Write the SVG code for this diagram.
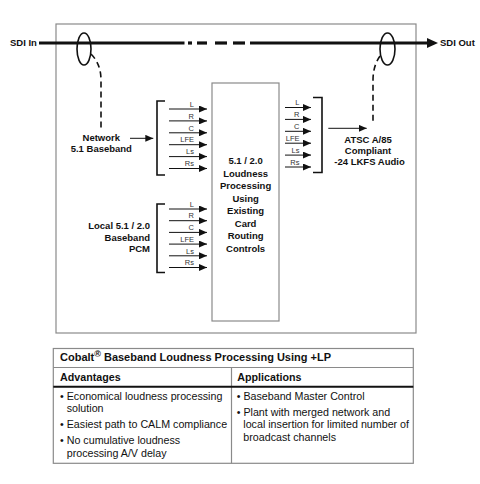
<svg xmlns="http://www.w3.org/2000/svg" width="480" height="484" viewBox="0 0 480 484">
<defs>
<style>
text{font-family:"Liberation Sans",Arial,sans-serif;fill:#111}
.b{font-weight:bold;font-size:9.5px}
.ch{font-size:7.5px;fill:#333;text-anchor:end}
.box{fill:#fff;stroke:#8a8a8a;stroke-width:1.2}
.cl{stroke:#111;stroke-width:1;fill:none}
.br{stroke:#111;stroke-width:1.6;fill:none}
.ds{stroke:#111;stroke-width:1.6;fill:none;stroke-dasharray:6 4}
.tb{font-size:10.7px}
.th{font-size:10.7px;font-weight:bold}
</style>
<marker id="ah" markerUnits="userSpaceOnUse" markerWidth="8" markerHeight="7" refX="8" refY="3.5" orient="auto">
<path d="M0,0 L8,3.5 L0,7 z" fill="#111"/>
</marker>
</defs>
<rect width="480" height="484" fill="#fff"/>
<g id="frame"><rect class="box" x="56" y="24" width="360" height="309" fill="none"/></g>
<g id="processor">
<rect class="box" x="212" y="83" width="67" height="238"/>
<text class="b" text-anchor="middle" x="245.6"><tspan x="245.6" y="164">5.1 / 2.0</tspan><tspan x="245.6" y="176.5">Loudness</tspan><tspan x="245.6" y="189">Processing</tspan><tspan x="245.6" y="201.5">Using</tspan><tspan x="245.6" y="214">Existing</tspan><tspan x="245.6" y="226.5">Card</tspan><tspan x="245.6" y="239">Routing</tspan><tspan x="245.6" y="251.5">Controls</tspan></text>
</g>
<g id="sdi-in"><text class="b" x="10" y="46" font-size="9.2">SDI In</text></g>
<g id="sdi-out"><text class="b" x="440" y="46" font-size="9.2">SDI Out</text></g>
<g id="network"><text class="b" text-anchor="middle"><tspan x="101.3" y="141">Network</tspan><tspan x="101.3" y="152">5.1 Baseband</tspan></text></g>
<g id="local"><text class="b" text-anchor="end"><tspan x="150" y="229.3">Local 5.1 / 2.0</tspan><tspan x="150" y="240.5">Baseband</tspan><tspan x="150" y="251.7">PCM</tspan></text></g>
<g id="atsc"><text class="b" text-anchor="middle"><tspan x="368" y="143.3">ATSC A/85</tspan><tspan x="368" y="154.3">Compliant</tspan><tspan x="369.5" y="165.3">-24 LKFS Audio</tspan></text></g>
<g id="connectors">
<line x1="39" y1="43" x2="184.5" y2="43" stroke="#111" stroke-width="3.2"/>
<line x1="188" y1="43" x2="192" y2="43" stroke="#111" stroke-width="3.2"/>
<line x1="197" y1="43" x2="207" y2="43" stroke="#111" stroke-width="3.2"/>
<line x1="215" y1="43" x2="227" y2="43" stroke="#111" stroke-width="3.2"/>
<line x1="233" y1="43" x2="245" y2="43" stroke="#111" stroke-width="3.2"/>
<line x1="250" y1="43" x2="429" y2="43" stroke="#111" stroke-width="3.2"/>
<polygon points="427,38 438,43 427,48" fill="#111"/>
<ellipse cx="84" cy="49" rx="7" ry="16" class="br"/>
<ellipse cx="387.5" cy="49" rx="7.5" ry="16" class="br"/>
<path class="ds" d="M91,54 Q101,64 101,80 V130"/>
<path class="ds" d="M380,56 Q373,66 373,80 V124"/>
<path class="br" d="M165,101 H157 V175 H165"/>
<path class="br" d="M165,204 H157 V272.5 H165"/>
<path class="br" d="M313,97.5 H322 V172.5 H313"/>
<line class="cl" x1="130" y1="138.3" x2="153.3" y2="138.3" marker-end="url(#ah)"/>
<line class="cl" x1="328.3" y1="128.3" x2="366.7" y2="128.3" marker-end="url(#ah)"/>
<g>
<line class="cl" x1="169" y1="109" x2="207" y2="109" marker-end="url(#ah)"/>
<line class="cl" x1="169" y1="120.9" x2="207" y2="120.9" marker-end="url(#ah)"/>
<line class="cl" x1="169" y1="132.8" x2="207" y2="132.8" marker-end="url(#ah)"/>
<line class="cl" x1="169" y1="144.7" x2="207" y2="144.7" marker-end="url(#ah)"/>
<line class="cl" x1="169" y1="156.6" x2="207" y2="156.6" marker-end="url(#ah)"/>
<line class="cl" x1="169" y1="168.5" x2="207" y2="168.5" marker-end="url(#ah)"/>
<line class="cl" x1="169" y1="209" x2="207" y2="209" marker-end="url(#ah)"/>
<line class="cl" x1="169" y1="220.7" x2="207" y2="220.7" marker-end="url(#ah)"/>
<line class="cl" x1="169" y1="232.4" x2="207" y2="232.4" marker-end="url(#ah)"/>
<line class="cl" x1="169" y1="244.1" x2="207" y2="244.1" marker-end="url(#ah)"/>
<line class="cl" x1="169" y1="255.8" x2="207" y2="255.8" marker-end="url(#ah)"/>
<line class="cl" x1="169" y1="267.5" x2="207" y2="267.5" marker-end="url(#ah)"/>
<line class="cl" x1="285" y1="107.5" x2="311" y2="107.5" marker-end="url(#ah)"/>
<line class="cl" x1="285" y1="119.4" x2="311" y2="119.4" marker-end="url(#ah)"/>
<line class="cl" x1="285" y1="131.3" x2="311" y2="131.3" marker-end="url(#ah)"/>
<line class="cl" x1="285" y1="143.2" x2="311" y2="143.2" marker-end="url(#ah)"/>
<line class="cl" x1="285" y1="155.1" x2="311" y2="155.1" marker-end="url(#ah)"/>
<line class="cl" x1="285" y1="167" x2="311" y2="167" marker-end="url(#ah)"/>
</g>
</g>
<g id="channel-labels">
<text class="ch" x="194" y="106.7">L</text>
<text class="ch" x="194" y="118.6">R</text>
<text class="ch" x="194" y="130.5">C</text>
<text class="ch" x="194" y="142.4">LFE</text>
<text class="ch" x="194" y="154.3">Ls</text>
<text class="ch" x="194" y="166.2">Rs</text>
<text class="ch" x="194" y="206.7">L</text>
<text class="ch" x="194" y="218.4">R</text>
<text class="ch" x="194" y="230.1">C</text>
<text class="ch" x="194" y="241.8">LFE</text>
<text class="ch" x="194" y="253.5">Ls</text>
<text class="ch" x="194" y="265.2">Rs</text>
<text class="ch" x="299.5" y="105.2">L</text>
<text class="ch" x="299.5" y="117.1">R</text>
<text class="ch" x="299.5" y="129">C</text>
<text class="ch" x="299.5" y="140.9">LFE</text>
<text class="ch" x="299.5" y="152.8">Ls</text>
<text class="ch" x="299.5" y="164.7">Rs</text>
</g>
<g id="table">
<rect x="53.3" y="348.5" width="360" height="114.8" fill="#fff" stroke="#8a8a8a" stroke-width="1.2"/>
<line x1="53.3" y1="367.5" x2="413.3" y2="367.5" stroke="#8a8a8a" stroke-width="1.2"/>
<line x1="231.5" y1="367.5" x2="231.5" y2="463.3" stroke="#8a8a8a" stroke-width="1.2"/>
<line x1="53.3" y1="386.7" x2="413.3" y2="386.7" stroke="#111" stroke-width="2"/>
<text x="60" y="361" font-size="11" font-weight="bold">Cobalt<tspan dy="-4" font-size="9">®</tspan><tspan dy="4"> Baseband Loudness Processing Using +LP</tspan></text>
<text class="th" x="60" y="380.5">Advantages</text>
<text class="th" x="237.3" y="380.5">Applications</text>
<text class="tb" x="60" y="400">• Economical loudness processing</text>
<text class="tb" x="66.7" y="412">solution</text>
<text class="tb" x="60" y="428.3">• Easiest path to CALM compliance</text>
<text class="tb" x="60" y="444.3">• No cumulative loudness</text>
<text class="tb" x="66.7" y="456.5">processing A/V delay</text>
<text class="tb" x="236.7" y="400">• Baseband Master Control</text>
<text class="tb" x="236.7" y="416">• Plant with merged network and</text>
<text class="tb" x="243.3" y="428.3">local insertion for limited number of</text>
<text class="tb" x="243.3" y="440.5">broadcast channels</text>
</g>
</svg>
